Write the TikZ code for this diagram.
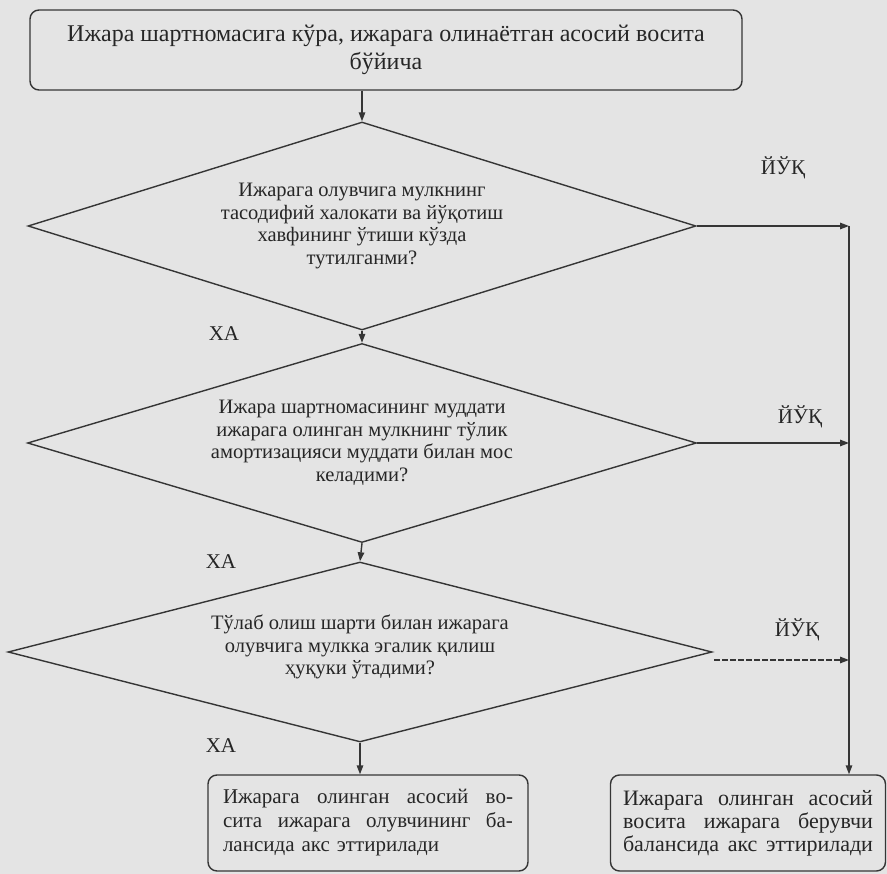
\documentclass[tikz,border=0pt]{standalone}
\usepackage{fontspec}
\setmainfont{Liberation Serif}
\usetikzlibrary{shapes.geometric,arrows.meta}
\definecolor{bgc}{HTML}{E4E4E4}
\definecolor{ink}{HTML}{353535}
\definecolor{txt}{HTML}{262626}
\tikzset{
  line/.style={draw=ink, line width=1.4pt},
  arr/.style={line, -{Triangle[length=9pt,width=6.5pt]}},
  roundbox/.style={line, rounded corners=9pt, rectangle, inner sep=0pt, text=txt},
  decision/.style={line, diamond, inner sep=0pt, align=center, text=txt,
     font=\fontsize{20.5}{22.5}\selectfont},
  lbl/.style={text=txt, inner sep=0pt, font=\fontsize{21}{22}\selectfont}
}
\begin{document}
\begin{tikzpicture}[x=1pt,y=-1pt]
\fill[bgc] (0,0) rectangle (887,874);
\useasboundingbox (0,0) rectangle (887,874);

\node[roundbox, minimum width=712pt, minimum height=80pt, align=center,
      font=\fontsize{24}{28.5}\selectfont] (top) at (386,50)
  {Ижара шартномасига кўра, ижарага олинаётган асосий восита\\бўйича};

\node[decision, shape aspect=3.21, minimum width=668pt, minimum height=208pt] (d1) at (362,226)
  {Ижарага олувчига мулкнинг\\тасодифий халокати ва йўқотиш\\хавфининг ўтиши кўзда\\тутилганми?};

\node[decision, shape aspect=3.36, minimum width=669pt, minimum height=199pt] (d2) at (362,443)
  {Ижара шартномасининг муддати\\ижарага олинган мулкнинг тўлик\\амортизацияси муддати билан мос\\келадими?};

\node[decision, shape aspect=3.91, minimum width=704pt, minimum height=180pt] (d3) at (360,652)
  {Тўлаб олиш шарти билан ижарага\\олувчига мулкка эгалик қилиш\\ҳуқуки ўтадими?\\[-8pt]};

\node[roundbox, minimum width=320pt, minimum height=96pt, text width=290pt, align=left,
      font=\fontsize{21}{24}\selectfont] (bl) at (368,823)
  {\hbox to 290pt{Ижарага\hfill олинган\hfill асосий\hfill во-}
   \hbox to 290pt{сита\hfill ижарага\hfill олувчининг\hfill ба-}
   \hbox{лансида акс эттирилади}};

\node[roundbox, minimum width=275pt, minimum height=96pt, text width=250pt, align=left,
      font=\fontsize{22}{23}\selectfont] (br) at (748,823)
  {\hbox to 250pt{Ижарага\hfill олинган\hfill асосий}
   \hbox to 250pt{восита\hfill ижарага\hfill берувчи}
   \hbox to 250pt{балансида\hfill акс\hfill эттирилади}};

\coordinate (r1) at (849,226);
\coordinate (r2) at (849,443);
\coordinate (r3) at (849,660);
\coordinate (d3s) at (714,660);

\draw[arr] (top.south -| d1.north) -- (d1.north);
\draw[arr] (d1.south) -- (d2.north);
\draw[arr] (d2.south) -- (d3.north);
\draw[arr] (d3.south) -- (d3.south |- bl.north);

\draw[arr] (d1.east) -- (r1);
\draw[arr] (d2.east) -- (r2);
\draw[arr, dash pattern=on 6pt off 2pt] (d3s) -- (r3);
\draw[arr] (r1) -- (r1 |- br.north);

\node[lbl] (y1) at (783,168) {ЙЎҚ};
\node[lbl] (y2) at (800,417) {ЙЎҚ};
\node[lbl] (y3) at (797,630) {ЙЎҚ};
\node[lbl] (x1) at (224,334) {ХА};
\node[lbl] (x2) at (221,562) {ХА};
\node[lbl] (x3) at (221,746) {ХА};
\end{tikzpicture}
\end{document}
